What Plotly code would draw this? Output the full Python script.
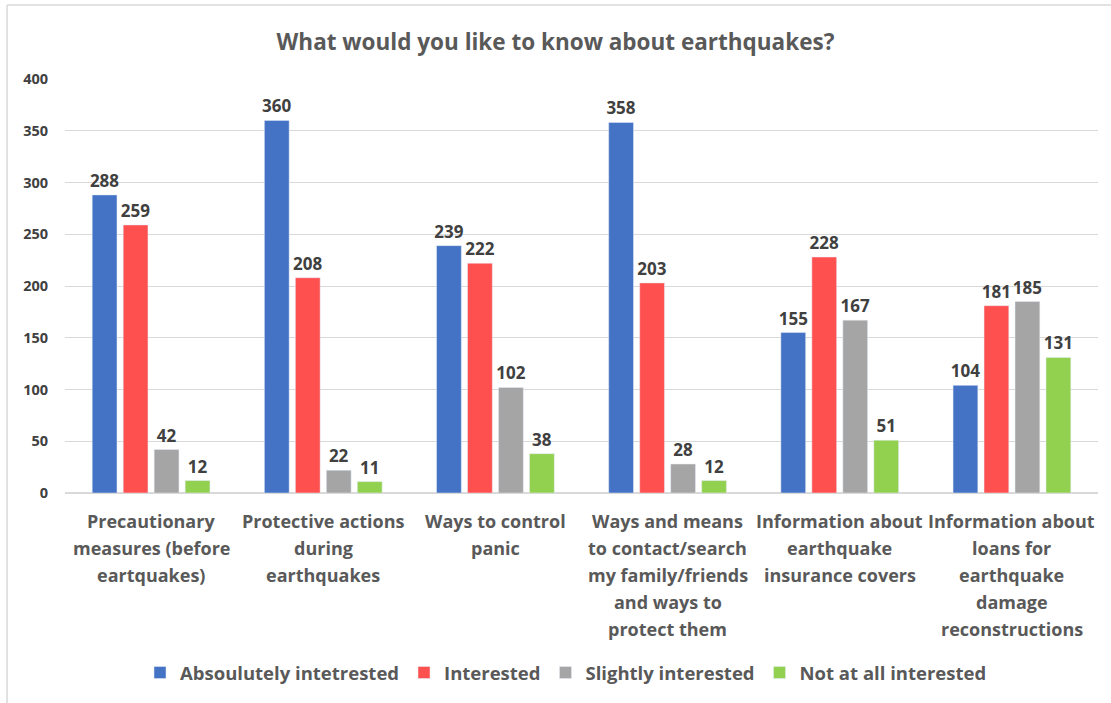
import plotly.graph_objects as go

categories = [
    "Precautionary measures (before eartquakes)",
    "Protective actions during earthquakes",
    "Ways to control panic",
    "Ways and means to contact/search my family/friends and ways to protect them",
    "Information about earthquake insurance covers",
    "Information about loans for earthquake damage reconstructions",
]
category_lines = [
    ["Precautionary", "measures (before", "eartquakes)"],
    ["Protective actions", "during", "earthquakes"],
    ["Ways to control", "panic"],
    ["Ways and means", "to contact/search", "my family/friends", "and ways to", "protect them"],
    ["Information about", "earthquake", "insurance covers"],
    ["Information about", "loans for", "earthquake", "damage", "reconstructions"],
]
absolutely = [288, 360, 239, 358, 155, 104]
interested = [259, 208, 222, 203, 228, 181]
slightly = [42, 22, 102, 28, 167, 185]
not_at_all = [12, 11, 38, 12, 51, 131]

series = [
    ("Absoulutely intetrested", absolutely, "#4472C4"),
    ("Interested", interested, "#FF5050"),
    ("Slightly interested", slightly, "#A5A5A5"),
    ("Not at all interested", not_at_all, "#92D050"),
]

FONT = "Open Sans"
fig = go.Figure()
for name, vals, col in series:
    fig.add_trace(go.Bar(
        x=categories, y=vals, name=name, marker_color=col,
        text=vals, textposition="outside", cliponaxis=False, constraintext="none",
        textfont=dict(family=FONT, size=17, color="#404040", weight="bold"),
    ))

annotations = []
for cat, lines in zip(categories, category_lines):
    for i, line in enumerate(lines):
        annotations.append(dict(
            x=cat, y=0, xref="x", yref="y", text=line, showarrow=False,
            xanchor="center", yanchor="middle", yshift=-(28 + 27 * i),
            font=dict(family=FONT, size=18, color="#595959", weight="bold"),
        ))

fig.update_layout(
    width=1111, height=703,
    paper_bgcolor="white", plot_bgcolor="white",
    margin=dict(l=65, r=13, t=79, b=210, autoexpand=False),
    barmode="group", bargap=0.28, bargroupgap=0.2,
    title=dict(text="What would you like to know about earthquakes?",
               x=0.5, xanchor="center", y=0.94, yanchor="middle",
               font=dict(family=FONT, size=22.5, color="#595959", weight="bold")),
    legend=dict(orientation="h", x=0.485, xanchor="center",
                yref="container", y=0.0427, yanchor="middle",
                font=dict(family=FONT, size=18.5, color="#595959", weight="bold"),
                itemwidth=30, traceorder="normal"),
    font=dict(family=FONT),
    annotations=annotations,
    shapes=[
        dict(type="line", xref="paper", yref="paper", x0=-0.0561, x1=-0.0561, y0=-0.51, y1=1.1787,
             line=dict(color="#D9D9D9", width=1.5)),
        dict(type="line", xref="paper", yref="paper", x0=-0.0561, x1=1.02, y0=1.1787, y1=1.1787,
             line=dict(color="#D9D9D9", width=1.5)),
    ],
)
fig.update_yaxes(range=[0, 400], dtick=50, showgrid=True, gridcolor="#D9D9D9",
                 zeroline=True, zerolinecolor="#D9D9D9", ticks="", ticklabelstandoff=16,
                 automargin=False,
                 tickfont=dict(family=FONT, size=14.5, color="#404040", weight="bold"))
fig.update_xaxes(showline=False, ticks="", showticklabels=False, automargin=False)

fig.write_html("out.html")
